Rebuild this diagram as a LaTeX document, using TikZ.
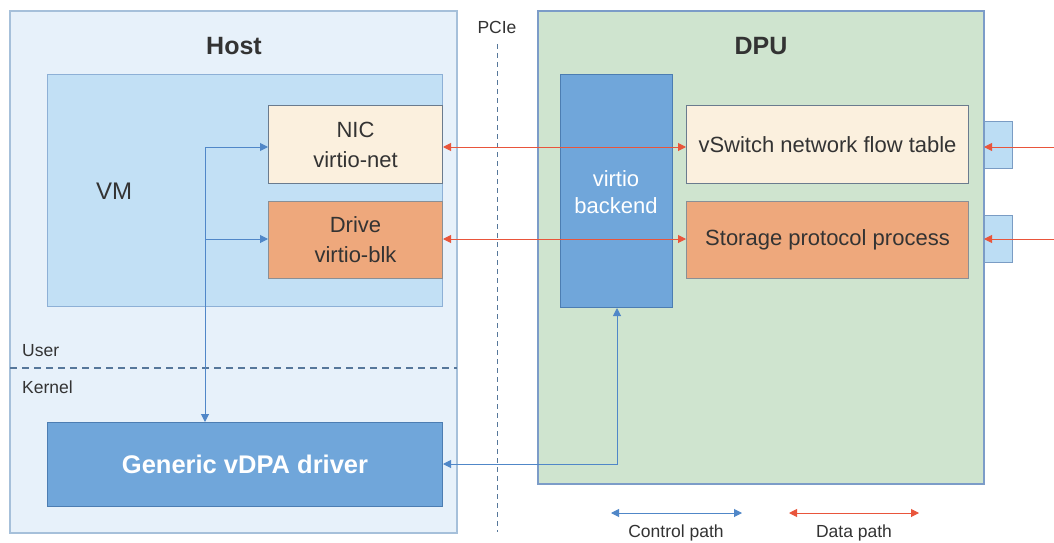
\documentclass[tikz,border=0pt]{standalone}
\usepackage{fontspec}
\setmainfont{Liberation Sans}
\usetikzlibrary{arrows.meta}
\definecolor{hostfill}{HTML}{E7F1FA}
\definecolor{hostdraw}{HTML}{A6C0DA}
\definecolor{vmfill}{HTML}{C2E0F5}
\definecolor{vmdraw}{HTML}{8DB0D6}
\definecolor{nicfill}{HTML}{FBF0DE}
\definecolor{nicdraw}{HTML}{6A7B8E}
\definecolor{drivefill}{HTML}{EEA87C}
\definecolor{drivedraw}{HTML}{8A8F95}
\definecolor{bluefill}{HTML}{70A6DA}
\definecolor{bluedraw}{HTML}{4C7DB2}
\definecolor{dpufill}{HTML}{CFE4CF}
\definecolor{dpudraw}{HTML}{7C9CC8}
\definecolor{portfill}{HTML}{BCDDF4}
\definecolor{portdraw}{HTML}{7A9CC4}
\definecolor{datared}{HTML}{E9553B}
\definecolor{ctrlblue}{HTML}{5087C8}
\definecolor{txt}{HTML}{333333}
\definecolor{dashc}{HTML}{56779A}
\tikzset{
  fs/.style={font=\fontsize{#1}{30}\selectfont},
  box/.style={draw, line width=1pt, inner sep=0pt, text=txt, align=center, fs=22},
  area/.style={draw, line width=1.1pt},
  ctrl/.style={draw=ctrlblue, line width=1pt, {-Triangle[length=8pt,width=8pt]}},
  ctrlboth/.style={draw=ctrlblue, line width=1pt, {Triangle[length=8pt,width=8pt]-Triangle[length=8pt,width=8pt]}},
  data/.style={draw=datared, line width=1pt, {-Triangle[length=8pt,width=8pt]}},
  databoth/.style={draw=datared, line width=1pt, {Triangle[length=8pt,width=8pt]-Triangle[length=8pt,width=8pt]}},
  lbl/.style={text=txt, inner sep=0pt}
}
\begin{document}
\begin{tikzpicture}[x=1pt,y=-1pt]
\useasboundingbox[fill=white] (0,0) rectangle (1054,543);
% Host
\draw[area, draw=hostdraw, fill=hostfill] (10,11) rectangle (457,533);
\node[lbl, font=\fontsize{25}{30}\selectfont\bfseries] (host) at (234,46) {Host};
\node[box, draw=vmdraw, fill=vmfill, minimum width=395pt, minimum height=232pt, anchor=north west] (vm) at (47,74) {};
\node[lbl, fs=24] (vmt) at (114,191) {VM};
\node[box, draw=nicdraw, fill=nicfill, minimum width=174pt, minimum height=78pt, anchor=north west] (nic) at (268,105) {NIC\\virtio-net};
\node[box, draw=drivedraw, fill=drivefill, minimum width=174pt, minimum height=77pt, anchor=north west] (drive) at (268,201) {Drive\\virtio-blk};
\draw[dashc, line width=1.1pt, dash pattern=on 7pt off 5pt] (10,368) -- (457,368);
\node[lbl, fs=17.5, anchor=west] (user) at (22,351) {User};
\node[lbl, fs=17.5, anchor=west] (kernel) at (22,387) {Kernel};
\node[box, draw=bluedraw, fill=bluefill, minimum width=395pt, minimum height=84pt, anchor=north west, text=white, font=\fontsize{25.5}{30}\selectfont\bfseries] (drv) at (47,422) {Generic vDPA driver};
% PCIe
\node[lbl, fs=17.5] (pcie) at (497,27) {PCIe};
\draw[dashc, line width=0.7pt, dash pattern=on 5pt off 4pt] (pcie.south |- 0,44) -- (pcie.south |- 0,532);
% DPU
\draw[area, draw=dpudraw, fill=dpufill] (538,11) rectangle (984,484);
\node[lbl, font=\fontsize{25}{30}\selectfont\bfseries] (dpu) at (761,46) {DPU};
\node[box, draw=bluedraw, fill=bluefill, minimum width=112pt, minimum height=233pt, anchor=north west] (vb) at (560,74) {};
\node[lbl, font=\fontsize{22}{27}\selectfont, text=white, align=center] (vbt) at (616,192) {virtio\\backend};
\node[box, draw=nicdraw, fill=nicfill, minimum width=282pt, minimum height=78pt, anchor=north west] (vsw) at (686,105) {vSwitch network flow table};
\node[box, draw=drivedraw, fill=drivefill, minimum width=282pt, minimum height=77pt, anchor=north west] (sto) at (686,201) {Storage protocol process};
\node[box, draw=portdraw, fill=portfill, minimum width=28pt, minimum height=47pt, anchor=north west] (p1) at (984,121) {};
\node[box, draw=portdraw, fill=portfill, minimum width=28pt, minimum height=47pt, anchor=north west] (p2) at (984,215) {};
% data paths
\coordinate (n1) at (442,147);
\coordinate (n2) at (442,239);
\draw[databoth] (n1 -| nic.east) -- (n1 -| vsw.west);
\draw[databoth] (n2 -| drive.east) -- (n2 -| sto.west);
\coordinate (e1) at (1054,147);
\coordinate (e2) at (1054,239);
\draw[data] (e1) -- (e1 -| p1.west);
\draw[data] (e2) -- (e2 -| p2.west);
% control paths
\coordinate (t1) at (205,147);
\coordinate (t2) at (205,239);
\draw[ctrl] (t1) -- (t1 -| nic.west);
\draw[ctrl] (t2) -- (t2 -| drive.west);
\draw[ctrl] (t1) -- (t1 |- drv.north);
\coordinate (c1) at (617,464);
\draw[ctrlboth] (vb.south -| c1) -- (c1) -- (c1 -| drv.east);
% legend
\coordinate (l1) at (611,513);
\coordinate (l2) at (742,513);
\coordinate (l3) at (789,513);
\coordinate (l4) at (919,513);
\draw[ctrlboth] (l1) -- (l2);
\draw[databoth] (l3) -- (l4);
\node[lbl, fs=17.5] (lc) at (676,533) {Control path};
\node[lbl, fs=17.5] (ld) at (854,533) {Data path};
\end{tikzpicture}
\end{document}
